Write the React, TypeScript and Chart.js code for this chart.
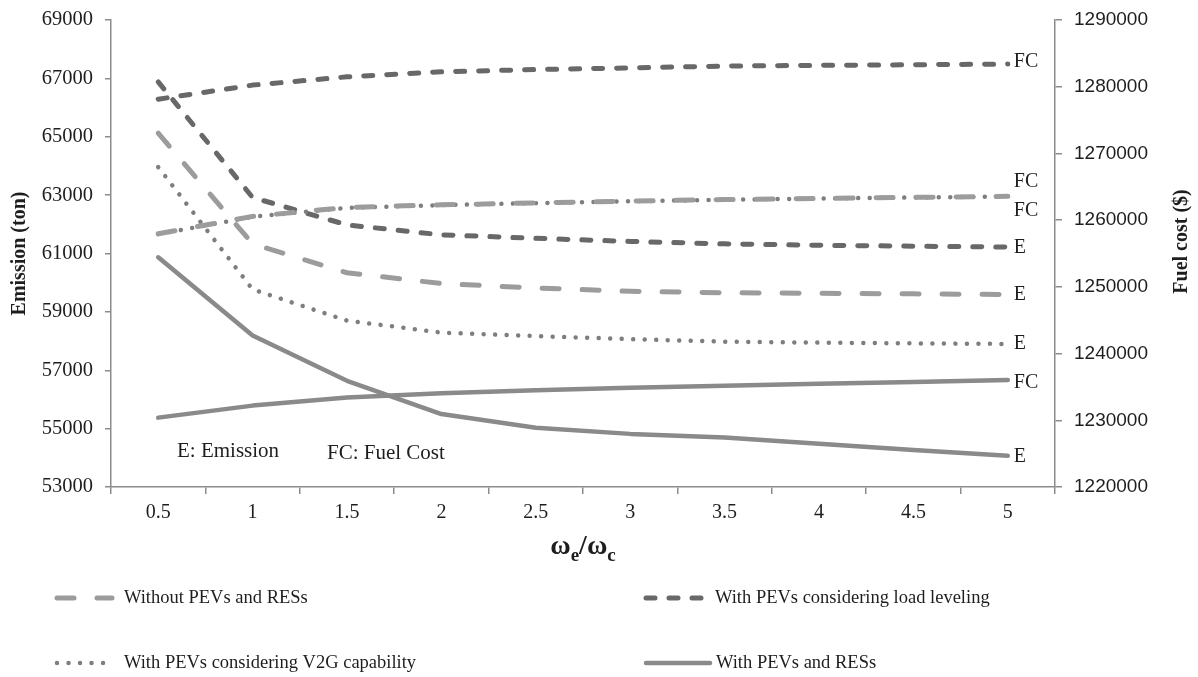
import React, { useEffect, useRef } from 'react';
import { Chart, registerables } from 'chart.js';
Chart.register(...registerables);

const categories = ['0.5', '1', '1.5', '2', '2.5', '3', '3.5', '4', '4.5', '5'];

// Emission (ton) - left axis
const withoutE = [65120, 61330, 60340, 59970, 59820, 59705, 59655, 59635, 59618, 59594];
const loadE = [66880, 62920, 61980, 61640, 61520, 61413, 61330, 61283, 61250, 61220];
const v2gE = [63960, 59770, 58700, 58290, 58170, 58066, 57980, 57946, 57922, 57900];
const resE = [60870, 58190, 56640, 55500, 55030, 54820, 54700, 54480, 54270, 54070];

// Fuel cost ($) - right axis
const withoutFC = [1257960, 1260560, 1261910, 1262290, 1262590, 1262860, 1263080, 1263265, 1263415, 1263565];
const loadFC = [1278130, 1280240, 1281480, 1282240, 1282570, 1282820, 1283090, 1283200, 1283290, 1283390];
const v2gFC = [1257900, 1260500, 1261850, 1262250, 1262550, 1262830, 1263050, 1263240, 1263390, 1263540];
const resFC = [1230400, 1232200, 1233400, 1234050, 1234500, 1234880, 1235180, 1235480, 1235730, 1236030];

const seriesNames = [
  'Without PEVs and RESs',
  'With PEVs considering load leveling',
  'With PEVs considering V2G capability',
  'With PEVs and RESs',
];

const SERIF = '"Liberation Serif", "Times New Roman", serif';
const SANS = '"Liberation Sans", Arial, sans-serif';
const AXIS = '#8c8c8c';
const TEXT = '#1e1e1e';

const styles = [
  { color: '#9c9c9c', width: 5, dash: [17, 23] },
  { color: '#686868', width: 5, dash: [9, 14] },
  { color: '#7e7e7e', width: 4.5, dash: [0.01, 11.5] },
  { color: '#8a8a8a', width: 4.5, dash: [] as number[] },
];

const eSeries = [withoutE, loadE, v2gE, resE];
const fcSeries = [withoutFC, loadFC, v2gFC, resFC];

// end-of-line tags: dataset index, text, vertical nudge
const endTags = [
  { ds: 1, text: 'FC', dy: -2 },
  { ds: 0, text: 'FC', dy: -15 },
  { ds: 2, text: 'FC', dy: 14 },
  { ds: 5, text: 'E', dy: 1 },
  { ds: 4, text: 'E', dy: 0 },
  { ds: 6, text: 'E', dy: 0 },
  { ds: 3, text: 'FC', dy: 3 },
  { ds: 7, text: 'E', dy: 1 },
];

export default function App() {
  const ref = useRef<HTMLCanvasElement | null>(null);
  useEffect(() => {
    document.body.style.margin = '0';
    const canvas = ref.current;
    if (!canvas) return;

    const datasets: any[] = [];
    fcSeries.forEach((d, i) => {
      const s = styles[i];
      datasets.push({
        label: seriesNames[i] + ' FC', data: d, yAxisID: 'yFC',
        borderColor: s.color, borderWidth: s.width, borderDash: s.dash,
        borderCapStyle: 'round', borderJoinStyle: 'round', pointRadius: 0, tension: 0, fill: false,
      });
    });
    eSeries.forEach((d, i) => {
      const s = styles[i];
      datasets.push({
        label: seriesNames[i] + ' E', data: d, yAxisID: 'yE',
        borderColor: s.color, borderWidth: s.width, borderDash: s.dash,
        borderCapStyle: 'round', borderJoinStyle: 'round', pointRadius: 0, tension: 0, fill: false,
      });
    });

    const overlay = {
      id: 'overlay',
      afterDraw(chart: any) {
        const ctx = chart.ctx;
        const area = chart.chartArea;
        ctx.save();
        // end tags
        ctx.fillStyle = TEXT;
        ctx.font = `20px ${SERIF}`;
        ctx.textBaseline = 'middle';
        ctx.textAlign = 'left';
        endTags.forEach((t) => {
          const meta = chart.getDatasetMeta(t.ds);
          const pt = meta.data[meta.data.length - 1];
          ctx.fillText(t.text, pt.x + 6, pt.y + t.dy);
        });
        // key notes
        ctx.font = `21px ${SERIF}`;
        ctx.fillText('E: Emission', area.left + 66, area.bottom - 36);
        ctx.fillText('FC: Fuel Cost', area.left + 216, area.bottom - 34);

        // right axis title (reads bottom to top)
        ctx.save();
        ctx.translate(1182, (area.top + area.bottom) / 2 - 12);
        ctx.rotate(-Math.PI / 2);
        ctx.textAlign = 'center';
        ctx.textBaseline = 'middle';
        ctx.font = `bold 20px ${SERIF}`;
        ctx.fillText('Fuel cost ($)', 0, 0);
        ctx.restore();

        // x title with subscripts
        const cx = (area.left + area.right) / 2;
        const ty = area.bottom + 67;
        const big = `bold 28px ${SERIF}`;
        const small = `bold 19px ${SERIF}`;
        const parts = [
          { t: '\u03c9', f: big, dy: 0 },
          { t: 'e', f: small, dy: 7 },
          { t: '/\u03c9', f: big, dy: 0 },
          { t: 'c', f: small, dy: 7 },
        ];
        let total = 0;
        parts.forEach((p) => { ctx.font = p.f; total += ctx.measureText(p.t).width; });
        let x = cx - total / 2;
        ctx.textBaseline = 'alphabetic';
        ctx.textAlign = 'left';
        parts.forEach((p) => {
          ctx.font = p.f;
          ctx.fillText(p.t, x, ty + p.dy);
          x += ctx.measureText(p.t).width;
        });

        // legend
        const rows = [
          { i: 0, x0: 57, x1: 112, tx: 124, y: 598 },
          { i: 1, x0: 646, x1: 701, tx: 715, y: 598 },
          { i: 2, x0: 57, x1: 110, tx: 124, y: 663 },
          { i: 3, x0: 646, x1: 710, tx: 716, y: 663 },
        ];
        rows.forEach((r) => {
          const s = styles[r.i];
          ctx.beginPath();
          ctx.setLineDash(s.dash);
          ctx.lineCap = 'round';
          ctx.lineWidth = s.width;
          ctx.strokeStyle = s.color;
          ctx.moveTo(r.x0, r.y);
          ctx.lineTo(r.x1, r.y);
          ctx.stroke();
          ctx.setLineDash([]);
          ctx.font = `18.5px ${SERIF}`;
          ctx.fillStyle = TEXT;
          ctx.textBaseline = 'middle';
          ctx.fillText(seriesNames[r.i], r.tx, r.y);
        });
        ctx.restore();
      },
    };

    const chart = new Chart(canvas, {
      type: 'line',
      data: { labels: categories, datasets },
      options: {
        animation: false,
        responsive: true,
        maintainAspectRatio: false,
        layout: { padding: { top: 20, left: 0, right: 0, bottom: 0 } },
        plugins: { legend: { display: false }, tooltip: { enabled: false } },
        scales: {
          x: {
            type: 'category',
            offset: true,
            grid: { offset: true, drawOnChartArea: false, drawTicks: true, tickLength: 7, color: AXIS, lineWidth: 1.5 },
            border: { display: true, color: AXIS, width: 1.5 },
            ticks: { font: { family: SERIF, size: 20 }, color: TEXT, padding: 7, maxRotation: 0, autoSkip: false },
            afterFit: (s: any) => { s.height = 190; s.paddingLeft = 0; s.paddingRight = 0; },
          },
          yE: {
            type: 'linear',
            position: 'left',
            min: 53000,
            max: 69000,
            grid: { drawOnChartArea: false, drawTicks: true, tickLength: 6, color: AXIS, lineWidth: 1.5 },
            border: { display: true, color: AXIS, width: 1.5 },
            ticks: { stepSize: 2000, font: { family: SERIF, size: 20.5 }, color: TEXT, padding: 12, callback: (v: any) => String(v) },
            title: { display: true, text: 'Emission (ton)', font: { family: SERIF, size: 20, weight: 'bold' }, color: TEXT, padding: { top: 8, bottom: 0 } },
            afterFit: (s: any) => { s.width = 111; s.paddingTop = 0; s.paddingBottom = 0; },
          },
          yFC: {
            type: 'linear',
            position: 'right',
            min: 1220000,
            max: 1290000,
            grid: { drawOnChartArea: false, drawTicks: true, tickLength: 7, color: AXIS, lineWidth: 1.5 },
            border: { display: true, color: AXIS, width: 1.5 },
            ticks: { stepSize: 10000, font: { family: SANS, size: 19 }, color: TEXT, padding: 12, callback: (v: any) => String(v) },
            title: { display: false },
            afterFit: (s: any) => { s.width = 143; s.paddingTop = 0; s.paddingBottom = 0; },
          },
        },
      } as any,
      plugins: [overlay],
    });
    return () => chart.destroy();
  }, []);

  return (
    <div style={{ position: 'fixed', left: 0, top: 0, width: 1198, height: 677, background: '#fff' }}>
      <canvas ref={ref} />
    </div>
  );
}
